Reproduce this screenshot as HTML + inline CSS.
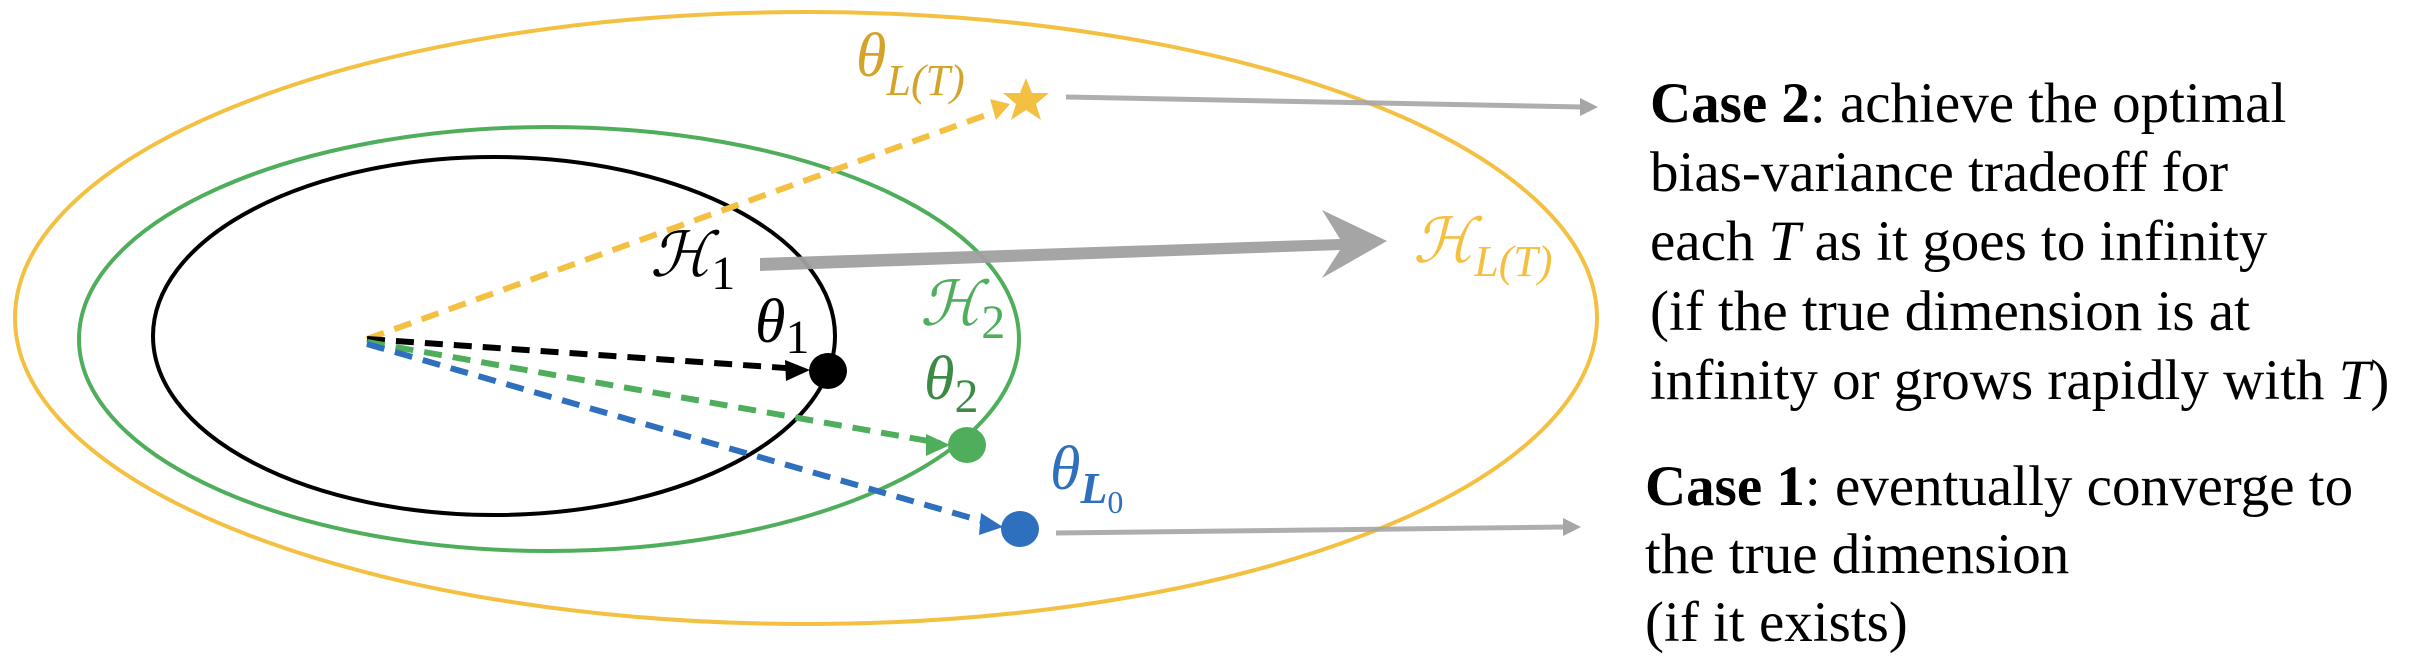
<!DOCTYPE html>
<html><head><meta charset="utf-8"><style>
html,body{margin:0;padding:0;background:#fff;}
svg{display:block;}
.t{font-family:"Liberation Serif",serif;font-size:57px;fill:#000;}
.m{font-family:"Liberation Serif","DejaVu Serif",serif;font-style:italic;}
</style></head><body>
<svg width="2416" height="666" viewBox="0 0 2416 666">
<g>
<ellipse cx="806" cy="318" rx="791" ry="306" fill="none" stroke="#f4c042" stroke-width="4"/>
<ellipse cx="549" cy="339" rx="470" ry="212" fill="none" stroke="#4fae5b" stroke-width="4"/>
<ellipse cx="494" cy="336" rx="341" ry="179" fill="none" stroke="#000" stroke-width="4"/>
</g>
<g stroke-width="6" stroke-dasharray="18,11" fill="none">
<line x1="367" y1="339" x2="1000" y2="110" stroke="#f4c042"/>
<line x1="367" y1="339" x2="800" y2="369" stroke="#000"/>
<line x1="367" y1="342" x2="940" y2="443" stroke="#4fae5b"/>
<line x1="367" y1="344" x2="992" y2="524" stroke="#2e6fbe"/>
</g>
<polygon points="1010,104 990,99 996,120" fill="#f4c042"/>
<polygon points="810,370 785,360 786,381" fill="#000"/>
<polygon points="950,445 926,434 926,456" fill="#4fae5b"/>
<polygon points="1003,527 981,513 979,535" fill="#2e6fbe"/>
<ellipse cx="828" cy="371" rx="19" ry="18" fill="#000"/>
<ellipse cx="967" cy="445" rx="19" ry="18" fill="#4fae5b"/>
<ellipse cx="1020" cy="529" rx="19" ry="18" fill="#2e6fbe"/>
<polygon fill="#f4c042" points="1026,78 1032,93 1049,93 1036,104 1041,120 1026,110 1011,120 1016,104 1003,93 1020,93"/>
<g>
<line x1="1066" y1="97" x2="1582" y2="107" stroke="#a6a6a6" stroke-width="5" opacity="0.9"/>
<polygon points="1598,107 1580,98 1580,116" fill="#a6a6a6"/>
<line x1="1056" y1="533" x2="1565" y2="527" stroke="#a6a6a6" stroke-width="5" opacity="0.9"/>
<polygon points="1581,527 1563,518 1563,536" fill="#a6a6a6"/>
<polygon fill="#a0a0a0" opacity="0.95" points="760,258 1340,239 1322,210 1387,241 1322,278 1340,250 760,271"/>
</g>
<g>
<text class="m" x="856" y="76" font-size="62" fill="#d4a42a">θ<tspan font-size="44" dy="19">L(T)</tspan></text>
<text class="m" x="650" y="276" font-size="62" fill="#000">ℋ<tspan font-size="48" dy="13" font-style="normal">1</tspan></text>
<text class="m" x="755" y="342" font-size="62" fill="#000">θ<tspan font-size="48" dy="11" font-style="normal">1</tspan></text>
<text class="m" x="920" y="325" font-size="62" fill="#4fae5b">ℋ<tspan font-size="48" dy="13" font-style="normal">2</tspan></text>
<text class="m" x="924" y="399" font-size="62" fill="#3d8a47">θ<tspan font-size="48" dy="13" font-style="normal">2</tspan></text>
<text class="m" x="1050" y="489" font-size="62" fill="#2e6fbe">θ<tspan font-size="44" dy="14" font-weight="bold">L</tspan><tspan font-size="32" dy="10" font-style="normal">0</tspan></text>
<text class="m" x="1413" y="262" font-size="62" fill="#f4c042">ℋ<tspan font-size="44" dy="14">L(T)</tspan></text>
</g>
<g class="t">
<text x="1650" y="122"><tspan font-weight="bold">Case 2</tspan>: achieve the optimal</text>
<text x="1650" y="191">bias-variance tradeoff for</text>
<text x="1650" y="260">each <tspan class="m">T</tspan> as it goes to infinity</text>
<text x="1650" y="330">(if the true dimension is at</text>
<text x="1650" y="399">infinity or grows rapidly with <tspan class="m">T</tspan>)</text>
</g>
<g class="t">
<text x="1645" y="505"><tspan font-weight="bold">Case 1</tspan>: eventually converge to</text>
<text x="1645" y="573">the true dimension</text>
<text x="1645" y="641">(if it exists)</text>
</g>
</svg>
</body></html>
